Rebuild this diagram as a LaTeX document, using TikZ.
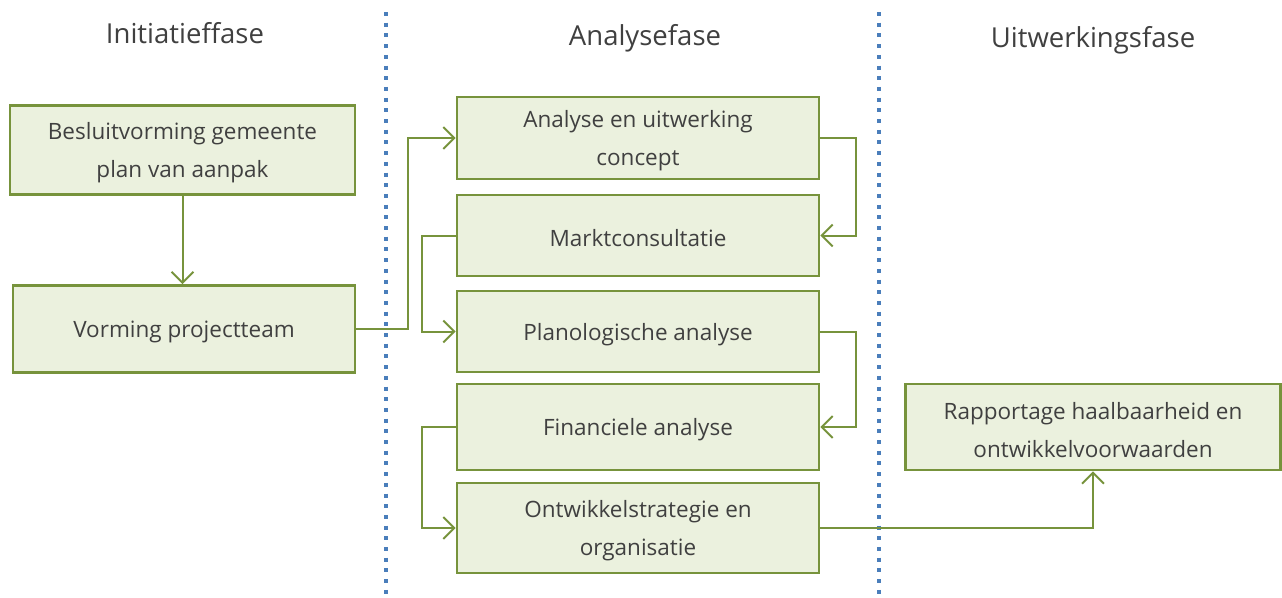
\documentclass[tikz,border=0pt]{standalone}
\usepackage{fontspec}
\setmainfont{Open Sans}
\usetikzlibrary{arrows.meta}
\definecolor{gline}{HTML}{77933C}
\definecolor{gfill}{HTML}{EBF1DE}
\definecolor{bdot}{HTML}{4A7EBB}
\definecolor{txt}{HTML}{404040}
\tikzset{
  box/.style={draw=gline, line width=2.6pt, fill=gfill, rectangle, inner sep=0pt},
  boxtext/.style={align=center, text=txt, font=\fontsize{22.5}{38}\selectfont, inner sep=0pt, yshift=-3pt},
  conn/.style={draw=gline, line width=2pt, -{Straight Barb[length=11pt,width=22pt,line width=2pt]}},
  phase/.style={text=txt, font=\fontsize{27.5}{34}\selectfont, anchor=base, inner sep=0pt},
  sep/.style={draw=bdot, line width=4pt, dash pattern=on 4pt off 6.7pt}
}
\begin{document}
\begin{tikzpicture}[x=1pt,y=-1pt]
\useasboundingbox[fill=white] (0,0) rectangle (1282,597);
% separators
\draw[sep] (386,12) -- (386,597);
\draw[sep] (879,12) -- (879,597);
% headers
\node[phase] (h1) at (185,43) {Initiatieffase};
\node[phase] (h2) at (645,45) {Analysefase};
\node[phase] (h3) at (1093,47) {Uitwerkingsfase};
% boxes
\node[box, minimum width=345pt, minimum height=89pt, label={[boxtext]center:Besluitvorming gemeente\\plan van aanpak}] (b1) at (182.5,150) {};
\node[box, minimum width=342pt, minimum height=87pt, label={[boxtext]center:Vorming projectteam}] (b2) at (184,329) {};
\node[box, minimum width=362pt, minimum height=82pt, label={[boxtext]center:Analyse en uitwerking\\concept}] (a) at (638,138) {};
\node[box, minimum width=362pt, minimum height=81pt, label={[boxtext]center:Marktconsultatie}] (m) at (638,235.5) {};
\node[box, minimum width=362pt, minimum height=81pt, label={[boxtext]center:Planologische analyse}] (p) at (638,331.5) {};
\node[box, minimum width=362pt, minimum height=86pt, label={[boxtext]center:Financiele analyse}] (f) at (638,427) {};
\node[box, minimum width=362pt, minimum height=90pt, label={[boxtext]center:Ontwikkelstrategie en\\organisatie}] (o) at (638,528) {};
\node[box, minimum width=375pt, minimum height=86pt, label={[boxtext]center:Rapportage haalbaarheid en\\ontwikkelvoorwaarden}] (r) at (1093,427) {};
% connectors
\draw[conn] (b1.south) -- (b1.south |- b2.north);
\draw[conn] (b2.east) -- ++(52,0) |- (a.west);
\draw[conn] (a.east) -- ++(36,0) |- (m.east);
\draw[conn] (m.west) -- ++(-34,0) |- (p.west);
\draw[conn] (p.east) -- ++(36,0) |- (f.east);
\draw[conn] (f.west) -- ++(-34,0) |- (o.west);
\draw[conn] (o.east) -| (r.south);
\end{tikzpicture}
\end{document}
